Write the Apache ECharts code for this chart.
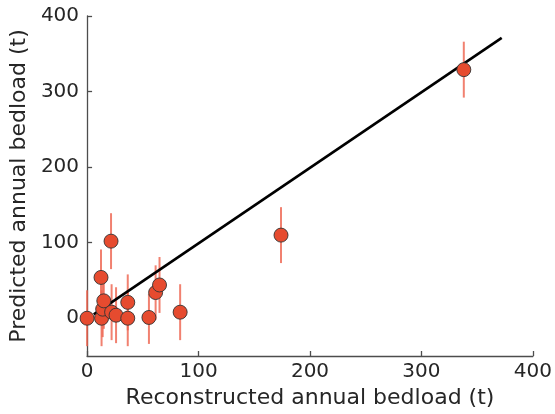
<!DOCTYPE html>
<html>
<head>
<meta charset="utf-8">
<script src="https://cdn.jsdelivr.net/npm/echarts@6/dist/echarts.min.js"></script>
<style>
  html, body { margin: 0; padding: 0; background: #fff; }
  #chart { width: 555px; height: 414px; }
</style>
</head>
<body>
<div id="chart"></div>
<script>
// Reconstructed vs predicted annual bedload (tonnes)
const reconstructed = [0, 13, 14, 15, 12.5, 21.5, 22, 26, 36.5, 36.5, 55.5, 61.5, 65, 83.5, 174, 338];
const predicted     = [0, 0, 12, 23, 54, 102, 8, 4, 21, 0, 1, 34, 44, 8, 110, 329];
const errLow        = [37, 37, 37, 37, 37, 37, 37, 37, 37, 37, 35, 36, 37, 37, 37, 37];
const errHigh       = [37, 37, 37, 37, 37, 37, 37, 37, 37, 37, 31, 36, 37, 37, 37, 37];

// Fitted line end points
const fitX = [6, 372];
const fitY = [5, 371];

const xTicks = [0, 100, 200, 300, 400];
const yTicks = [0, 100, 200, 300, 400];

const font = 'DejaVu Sans';
const axisColor = '#4d4d4d';
const textColor = '#262626';

const points = reconstructed.map((x, i) => [x, predicted[i]]);
const bars = reconstructed.map((x, i) => [x, predicted[i] - errLow[i], predicted[i] + errHigh[i]]);
const fitLine = fitX.map((x, i) => [x, fitY[i]]);

const chart = echarts.init(document.getElementById('chart'), null, { renderer: 'canvas' });

chart.setOption({
  animation: false,
  backgroundColor: '#fff',
  grid: { left: 85, right: 19, top: 16, bottom: 58, containLabel: false },
  xAxis: {
    type: 'value',
    min: 0, max: 400,
    name: 'Reconstructed annual bedload (t)',
    nameLocation: 'middle',
    nameGap: 30,
    nameTextStyle: { fontFamily: font, fontSize: 22, color: textColor },
    axisLine: { show: true, onZero: false, lineStyle: { color: axisColor, width: 1.3 } },
    axisTick: { show: true, inside: true, length: 5, customValues: xTicks, lineStyle: { color: axisColor, width: 1.3 } },
    axisLabel: { customValues: xTicks, fontFamily: font, fontSize: 20, color: textColor, margin: 6 },
    splitLine: { show: false }
  },
  yAxis: {
    type: 'value',
    min: -50, max: 400,
    name: 'Predicted annual bedload (t)',
    nameLocation: 'middle',
    nameGap: 43,
    nameTextStyle: { fontFamily: font, fontSize: 22, color: textColor },
    axisLine: { show: true, onZero: false, lineStyle: { color: axisColor, width: 1.3 } },
    axisTick: { show: true, inside: true, length: 5, customValues: yTicks, lineStyle: { color: axisColor, width: 1.3 } },
    axisLabel: { customValues: yTicks, fontFamily: font, fontSize: 20, color: textColor, margin: 8 },
    splitLine: { show: false }
  },
  series: [
    {
      type: 'custom',
      name: 'error',
      clip: false,
      z: 1,
      data: bars,
      renderItem: function (params, api) {
        const lo = api.coord([api.value(0), api.value(1)]);
        const hi = api.coord([api.value(0), api.value(2)]);
        return {
          type: 'line',
          shape: { x1: lo[0], y1: lo[1], x2: hi[0], y2: hi[1] },
          style: { stroke: 'rgba(238, 98, 76, 0.8)', lineWidth: 2 }
        };
      }
    },
    {
      type: 'line',
      name: 'fit',
      z: 2,
      data: fitLine,
      symbol: 'none',
      lineStyle: { color: '#000', width: 2.6 },
      clip: false
    },
    {
      type: 'scatter',
      name: 'points',
      z: 3,
      clip: false,
      data: points,
      symbol: 'circle',
      symbolSize: 14,
      itemStyle: { color: '#E64B2F', borderColor: '#333333', borderWidth: 0.9, opacity: 1 }
    }
  ]
});
</script>
</body>
</html>
